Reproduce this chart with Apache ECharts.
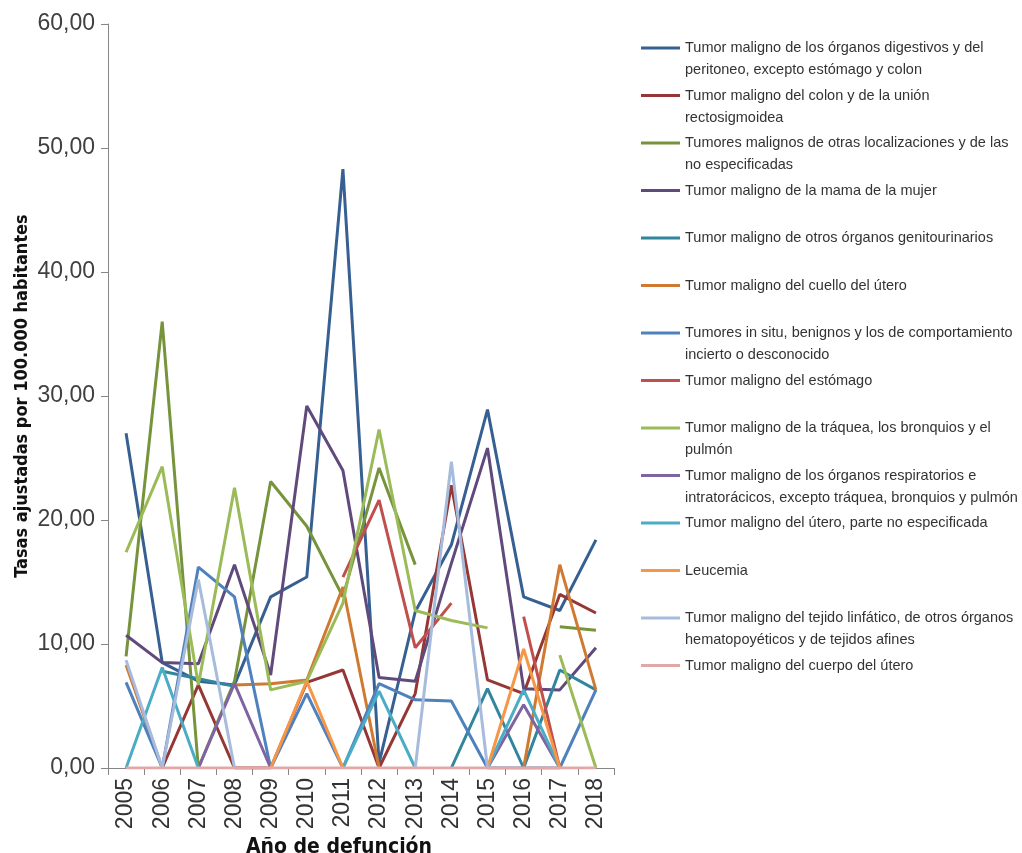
<!DOCTYPE html>
<html>
<head>
<meta charset="utf-8">
<script src="https://cdn.jsdelivr.net/npm/echarts@6/dist/echarts.min.js"></script>
<style>
  html, body { margin: 0; padding: 0; background: #fff; }
  #chart { width: 1022px; height: 853px; }
</style>
</head>
<body>
<div id="chart"></div>
<script>
// años de defunción
const years = ['2005', '2006', '2007', '2008', '2009', '2010', '2011', '2012', '2013', '2014', '2015', '2016', '2017', '2018']

// etiquetas de la leyenda (con su salto de linea)
const legendLabels = [
  'Tumor maligno de los órganos digestivos y del\nperitoneo, excepto estómago y colon',
  'Tumor maligno del colon y de la unión\nrectosigmoidea',
  'Tumores malignos de otras localizaciones y de las\nno especificadas',
  'Tumor maligno de la mama de la mujer',
  'Tumor maligno de otros órganos genitourinarios',
  'Tumor maligno del cuello del útero',
  'Tumores in situ, benignos y los de comportamiento\nincierto o desconocido',
  'Tumor maligno del estómago',
  'Tumor maligno de la tráquea, los bronquios y el\npulmón',
  'Tumor maligno de los órganos respiratorios e\nintratorácicos, excepto tráquea, bronquios y pulmón',
  'Tumor maligno del útero, parte no especificada',
  'Leucemia',
  'Tumor maligno del tejido linfático, de otros órganos\nhematopoyéticos y de tejidos afines',
  'Tumor maligno del cuerpo del útero'
]

// tasas ajustadas por 100.000 habitantes (null = sin dato)
const digestivos = [27.0, 8.5, 7.0, 6.7, 13.8, 15.4, 48.3, 0.4, 12.6, 18.0, 28.9, 13.8, 12.7, 18.4]
const colon = [null, 0, 6.7, 0, 0, 6.9, 7.9, 0, 6.0, 22.8, 7.1, 6.0, 14.0, 12.5]
const otras = [9.0, 36.0, 0, 7.0, 23.1, 19.5, 13.8, 24.2, 16.4, null, null, null, 11.4, 11.1]
const mama = [10.7, 8.5, 8.4, 16.4, 7.5, 29.2, 24.0, 7.3, 7.0, 16.5, 25.8, 6.4, 6.3, 9.7]
const genitourinarios = [null, 7.8, 7.2, 6.6, null, null, null, null, null, 0, 6.4, 0, 7.9, 6.3]
const cuelloUtero = [8.3, 0, null, 6.7, 6.8, 7.1, 14.6, 0, null, null, null, 0, 16.4, 6.3]
const inSitu = [6.9, 0, 16.2, 13.8, 0, 6.0, 0, 6.8, 5.5, 5.4, 0, 0, 0, 6.3]
const estomago = [null, null, null, null, null, null, 15.4, 21.6, 9.7, 13.3, null, 12.2, 0, null]
const traquea = [17.4, 24.3, 6.7, 22.6, 6.3, 7.0, 13.3, 27.3, 12.7, 11.9, 11.3, null, 9.1, 0]
const respiratorios = [null, null, 0, 6.8, 0, null, null, null, null, null, 0, 5.1, 0, null]
const uteroNoEsp = [0, 8.1, 0, null, null, null, 0, 6.2, 0, null, 0, 6.3, 0, null]
const leucemia = [null, null, null, null, 0, 7.0, 0, null, null, null, 0, 9.6, 0, null]
const linfatico = [8.7, 0, 15.2, 0, null, null, null, null, 0, 24.7, 0, null, null, null]
const cuerpoUtero = [0, 0, 0, 0, 0, 0, 0, 0, 0, 0, 0, 0, 0, 0]

const seriesData = [digestivos, colon, otras, mama, genitourinarios, cuelloUtero, inSitu,
  estomago, traquea, respiratorios, uteroNoEsp, leucemia, linfatico, cuerpoUtero]

const colors = ['#376092', '#953735', '#77933C', '#604A7B', '#31859C', '#CF7A30', '#4F81BD',
  '#C0504D', '#9BBB59', '#8064A2', '#4BACC6', '#F79646', '#A7BCDD', '#E0A9A7']

const names = legendLabels.map(l => l.replace('\n', ' '))
const LH = 22 // alto de linea de la leyenda

const chart = echarts.init(document.getElementById('chart'))
chart.setOption({
  animation: false,
  color: colors,
  grid: {
    left: 108,
    right: 408,
    top: 24,
    bottom: 85,
    outerBoundsMode: 'none'
  },
  legend: {
    orient: 'vertical',
    left: 636,
    top: 10,
    icon: 'rect',
    itemWidth: 39,
    itemHeight: 3,
    itemGap: 47.5 - 3 * LH,
    data: legendLabels.map((l, i) => ({
      name: names[i],
      textStyle: {
        // las de una linea se rellenan para ocupar lo mismo que las de dos
        padding: l.indexOf('\n') >= 0 ? 0 : [LH, 0, LH, 0]
      }
    })),
    // linea vacia arriba para que el icono quede a la altura de la primera linea
    formatter: name => {
      const l = legendLabels[names.indexOf(name)]
      return l.indexOf('\n') >= 0 ? '\n' + l : l
    },
    textStyle: {
      fontFamily: 'Liberation Sans, Arial, sans-serif',
      fontSize: 14.5,
      lineHeight: LH,
      color: '#333'
    }
  },
  xAxis: {
    type: 'category',
    data: years,
    name: 'Año de defunción',
    nameLocation: 'middle',
    nameGap: 58,
    nameTextStyle: {
      fontFamily: 'Liberation Sans Narrow, DejaVu Sans Condensed, sans-serif',
      fontWeight: 'bold',
      fontSize: 21,
      color: '#111',
      padding: [0, 44, 0, 0]
    },
    axisLine: { lineStyle: { color: '#868686', width: 1 } },
    axisTick: { show: true, length: 7, lineStyle: { color: '#868686' } },
    axisLabel: {
      rotate: 90,
      margin: 10,
      fontFamily: 'Liberation Sans, Arial, sans-serif',
      fontSize: 23,
      color: '#333'
    }
  },
  yAxis: {
    type: 'value',
    min: 0,
    max: 60,
    interval: 10,
    name: 'Tasas ajustadas por 100.000 habitantes',
    nameLocation: 'middle',
    nameGap: 77,
    nameTextStyle: {
      fontFamily: 'Liberation Sans Narrow, DejaVu Sans Condensed, sans-serif',
      fontWeight: 'bold',
      fontSize: 18,
      color: '#111'
    },
    splitLine: { show: false },
    axisLine: { show: true, lineStyle: { color: '#868686', width: 1 } },
    axisTick: { show: true, length: 7, lineStyle: { color: '#868686' } },
    axisLabel: {
      margin: 13,
      fontFamily: 'Liberation Sans, Arial, sans-serif',
      fontSize: 23,
      color: '#404040',
      formatter: v => v.toFixed(2).replace('.', ',')
    }
  },
  series: seriesData.map((d, i) => ({
    name: names[i],
    type: 'line',
    data: d,
    showSymbol: false,
    symbol: 'none',
    lineStyle: { width: 3 }
  }))
})
</script>
</body>
</html>
